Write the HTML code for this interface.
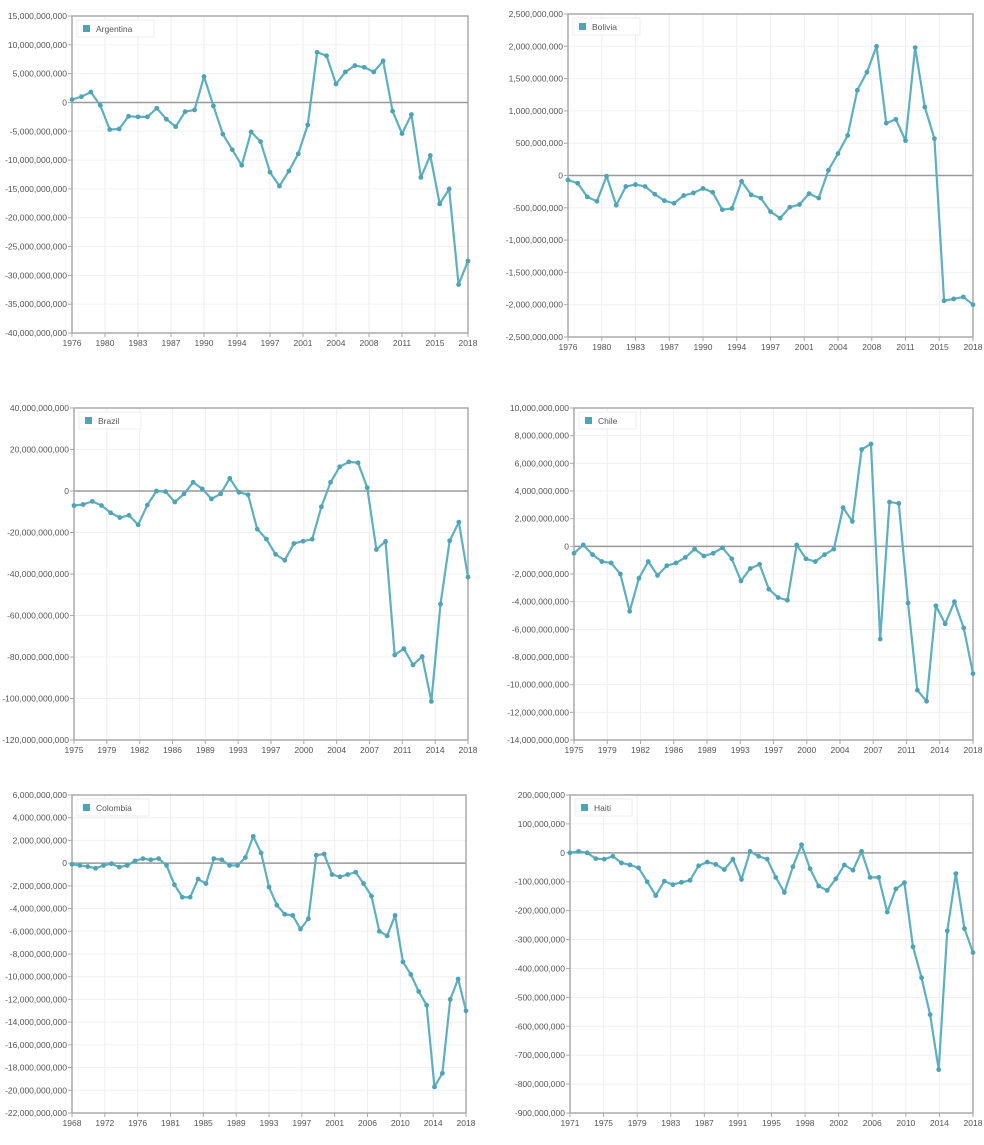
<!DOCTYPE html>
<html><head><meta charset="utf-8"><style>
html,body{margin:0;padding:0;background:#fff;}
svg text{font-family:"Liberation Sans",sans-serif;font-size:8.5px;fill:#555;}
</style></head><body>
<svg id="s" width="984" height="1140" xmlns="http://www.w3.org/2000/svg"></svg>
<script>
const charts=[
{n:"Argentina",x0:72,x1:468,y0:16,y1:333,ymax:15e9,ymin:-40e9,step:5e9,start:1976,unit:1e9,
labels:[1976,1980,1983,1987,1990,1994,1997,2001,2004,2008,2011,2015,2018],
d:[0.5,1,1.8,-0.5,-4.7,-4.6,-2.4,-2.5,-2.5,-1,-2.9,-4.2,-1.6,-1.3,4.5,-0.6,-5.5,-8.2,-10.9,-5.1,-6.8,-12.1,-14.5,-11.9,-8.9,-3.9,8.7,8.1,3.2,5.3,6.4,6.1,5.3,7.2,-1.5,-5.4,-2.1,-13,-9.2,-17.6,-15,-31.6,-27.5]},
{n:"Bolivia",x0:568,x1:973,y0:14,y1:337,ymax:2.5e9,ymin:-2.5e9,step:5e8,start:1976,unit:1e6,
labels:[1976,1980,1983,1987,1990,1994,1997,2001,2004,2008,2011,2015,2018],
d:[-70,-120,-330,-400,-10,-460,-170,-140,-170,-290,-390,-430,-310,-270,-200,-260,-530,-510,-90,-300,-350,-560,-660,-490,-450,-280,-350,80,340,620,1320,1600,2000,810,870,540,1980,1060,570,-1940,-1910,-1880,-2000]},
{n:"Brazil",x0:74,x1:468,y0:408,y1:740,ymax:40e9,ymin:-120e9,step:20e9,start:1975,unit:1e9,
labels:[1975,1979,1982,1986,1989,1993,1997,2000,2004,2007,2011,2014,2018],
d:[-7,-6.5,-5,-7,-10.5,-12.8,-11.7,-16.3,-6.8,0,-0.3,-5.3,-1.4,4.2,1,-3.8,-1.4,6.1,-0.6,-1.8,-18.4,-23.2,-30.5,-33.4,-25.3,-24.2,-23.2,-7.6,4.2,11.7,14,13.6,1.6,-28.2,-24.3,-79,-76,-83.8,-79.8,-101.4,-54.5,-24,-15,-41.5]},
{n:"Chile",x0:574,x1:973,y0:408,y1:740,ymax:10e9,ymin:-14e9,step:2e9,start:1975,unit:1e9,
labels:[1975,1979,1982,1986,1989,1993,1997,2000,2004,2007,2011,2014,2018],
d:[-0.5,0.1,-0.6,-1.1,-1.2,-2,-4.7,-2.3,-1.1,-2.1,-1.4,-1.2,-0.8,-0.2,-0.7,-0.5,-0.1,-0.9,-2.5,-1.6,-1.3,-3.1,-3.7,-3.9,0.1,-0.9,-1.1,-0.6,-0.2,2.8,1.8,7,7.4,-6.7,3.2,3.1,-4.1,-10.4,-11.2,-4.3,-5.6,-4,-5.9,-9.2]},
{n:"Colombia",x0:72,x1:466,y0:795,y1:1113,ymax:6e9,ymin:-22e9,step:2e9,start:1968,unit:1e9,
labels:[1968,1972,1976,1981,1985,1989,1993,1997,2001,2006,2010,2014,2018],
d:[-0.1,-0.2,-0.3,-0.45,-0.2,-0.05,-0.35,-0.2,0.2,0.4,0.3,0.4,-0.2,-1.9,-3,-3,-1.4,-1.8,0.4,0.3,-0.2,-0.2,0.5,2.35,0.9,-2.1,-3.7,-4.5,-4.6,-5.8,-4.9,0.7,0.8,-1,-1.2,-1,-0.8,-1.8,-2.9,-6,-6.4,-4.6,-8.7,-9.8,-11.3,-12.5,-19.7,-18.5,-12,-10.2,-13]},
{n:"Haiti",x0:570,x1:973,y0:795,y1:1113,ymax:2e8,ymin:-9e8,step:1e8,start:1971,unit:1e6,
labels:[1971,1975,1979,1983,1987,1991,1995,1998,2002,2006,2010,2014,2018],
d:[0,5,0,-20,-22,-12,-35,-42,-52,-100,-148,-98,-110,-102,-95,-45,-32,-40,-58,-22,-92,5,-12,-22,-85,-137,-48,28,-55,-115,-130,-90,-42,-60,5,-85,-85,-205,-125,-103,-325,-432,-560,-750,-270,-72,-262,-345]}
];
let h="";
const fmt=v=>(v<0?"-":"")+Math.round(Math.abs(v)).toString().replace(/\B(?=(\d{3})+(?!\d))/g,",");
for(const c of charts){
 const Y=v=>c.y0+(c.ymax-v)/(c.ymax-c.ymin)*(c.y1-c.y0);
 const N=c.d.length, X=i=>c.x0+i/(N-1)*(c.x1-c.x0);
 const L=c.labels.length;
 for(let k=0;k<L;k++){const x=c.x0+k/(L-1)*(c.x1-c.x0);
  h+=`<line x1="${x}" y1="${c.y0}" x2="${x}" y2="${c.y1}" stroke="#eee"/>`;
  h+=`<line x1="${x}" y1="${c.y1}" x2="${x}" y2="${c.y1+4}" stroke="#aaa"/>`;
  h+=`<text x="${x}" y="${c.y1+13}" text-anchor="middle">${c.labels[k]}</text>`;}
 for(let v=c.ymax;v>=c.ymin-1;v-=c.step){const y=Y(v);
  h+=`<line x1="${c.x0}" y1="${y}" x2="${c.x1}" y2="${y}" stroke="#f0f0f0"/>`;
  h+=`<line x1="${c.x0-4}" y1="${y}" x2="${c.x0}" y2="${y}" stroke="#aaa"/>`;
  h+=`<text x="${c.x0-5}" y="${y+3}" text-anchor="end">${fmt(v)}</text>`;}
 h+=`<line x1="${c.x0}" y1="${Y(0)}" x2="${c.x1}" y2="${Y(0)}" stroke="#999" stroke-width="1.5"/>`;
 h+=`<rect x="${c.x0}" y="${c.y0}" width="${c.x1-c.x0}" height="${c.y1-c.y0}" fill="none" stroke="#aaa" stroke-width="1.5"/>`;
 const pts=c.d.map((v,i)=>[X(i),Y(v*c.unit)]);
 h+=`<polyline points="${pts.map(p=>p.join(',')).join(' ')}" fill="none" stroke="#5eb0c0" stroke-width="2.2" stroke-linejoin="round"/>`;
 for(const p of pts)h+=`<circle cx="${p[0]}" cy="${p[1]}" r="2.4" fill="#4fa3b5"/>`;
 const w=c.n.length*5+32;
 h+=`<rect x="${c.x0+5}" y="${c.y0+4}" width="${w}" height="17" fill="#fff" stroke="#eee"/>`;
 h+=`<rect x="${c.x0+11}" y="${c.y0+9}" width="7" height="7" fill="#4fa3b5"/>`;
 h+=`<text x="${c.x0+24}" y="${c.y0+16}" font-size="8">${c.n}</text>`;
}
document.getElementById("s").innerHTML=h;
</script>
</body></html>
